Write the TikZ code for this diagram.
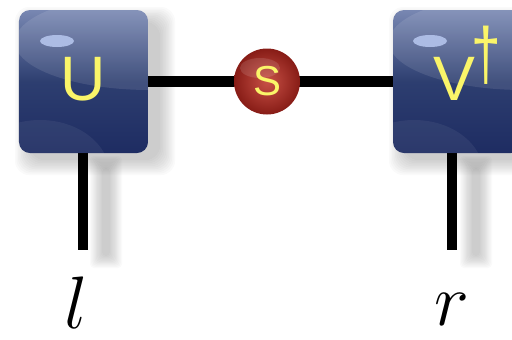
\documentclass[tikz,border=0pt]{standalone}
\usepackage{fontspec}
\newfontfamily\sansf{Liberation Sans}
\definecolor{ytxt}{RGB}{250,245,105}
\definecolor{btop}{RGB}{120,135,178}
\definecolor{bmid}{RGB}{45,62,112}
\definecolor{bbot}{RGB}{30,44,98}
\definecolor{hilite}{RGB}{172,188,228}
\definecolor{rdark}{RGB}{135,28,22}
\definecolor{rlight}{RGB}{200,80,70}
\tikzset{
  tbox/.style={rectangle, rounded corners=11bp, minimum width=129bp, minimum height=143bp,
    inner sep=0pt, top color=btop, bottom color=bbot, middle color=bmid},
  sball/.style={circle, minimum size=66bp, inner sep=0pt, inner color=rlight, outer color=rdark},
  boxtext/.style={text=ytxt, font=\sansf\fontsize{63}{63}\selectfont},
  balltext/.style={text=ytxt, font=\sansf\fontsize{42}{42}\selectfont},
  hconn/.style={line width=11bp, black},
  vconn/.style={line width=10bp, black},
  idx/.style={anchor=base, inner sep=0pt, scale=3, transform shape, font=\Huge},
  shade/.style={black, opacity=0.02, rounded corners=14bp},
}
\begin{document}
\begin{tikzpicture}[x=1bp, y=-1bp]
\useasboundingbox (0,0) rectangle (512,339);
\begin{scope}
\clip (0,0) rectangle (512,339);
% shadows
\foreach \i in {0,...,10} {
  \fill[shade] (30-\i*1.5,22-\i*1.5) rectangle (160+\i*1.5,160+\i*1.5);
  \fill[shade] (404-\i*1.5,22-\i*1.5) rectangle (540+\i*1.5,160+\i*1.5);
  \fill[shade, rounded corners=4bp] (102-\i*1.2,168-\i*1.2) rectangle (110+\i*1.2,256+\i*1.2);
  \fill[shade, rounded corners=4bp] (472-\i*1.2,168-\i*1.2) rectangle (480+\i*1.2,256+\i*1.2);
}
% nodes
\node[tbox] (U) at (83.5,81.5) {};
\node[tbox] (V) at (457.5,81.5) {};
\coordinate (lend) at (83,250);
\coordinate (rend) at (452,250);
% connectors
\draw[hconn] (U.east) -- (V.west);
\draw[vconn] (U.south -| lend) -- (lend);
\draw[vconn] (V.south -| rend) -- (rend);
\node[sball] (S) at (267,81.5) {};
% gloss
\begin{scope}
  \clip[rounded corners=11bp] (19,10) rectangle (148,153);
  \fill[white, opacity=0.10] (150,42) ellipse [x radius=135, y radius=48];
  \fill[white, opacity=0.06] (40,175) ellipse [x radius=70, y radius=55];
  \fill[hilite] (57,41) ellipse [x radius=17, y radius=6];
\end{scope}
\begin{scope}
  \clip[rounded corners=11bp] (393,10) rectangle (522,153);
  \fill[white, opacity=0.10] (524,42) ellipse [x radius=135, y radius=48];
  \fill[white, opacity=0.06] (414,175) ellipse [x radius=70, y radius=55];
  \fill[hilite] (430,41) ellipse [x radius=17, y radius=6];
\end{scope}
\fill[white, opacity=0.12] (260,68) ellipse [x radius=20, y radius=10];
% texts
\node[boxtext] (Ut) at (83,79) {U};
\node[boxtext] (Vt) at (454,79) {V\rlap{\kern-3bp\smash{\raisebox{21bp}{\scalebox{0.72}[1]{\fontsize{74}{74}\selectfont †}}}}};
\node[balltext] (St) at (S.center) {S};
\end{scope}
\node[idx] (l) at (76,328) {$l$};
\node[idx] (r) at (452,325) {$r$};
\end{tikzpicture}
\end{document}
